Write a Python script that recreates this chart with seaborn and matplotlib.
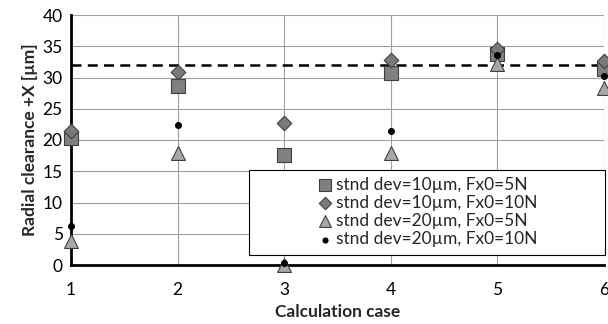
import pandas as pd
import matplotlib.pyplot as plt
import seaborn as sns
from matplotlib.patches import Rectangle

# values
cases = [1, 2, 3, 4, 5, 6]
sd10_f5 = [20.3, 28.7, 17.6, 30.8, 33.7, 31.3]
sd10_f10 = [21.4, 30.9, 22.7, 32.8, 34.6, 32.7]
sd20_f5 = [3.9, 17.9, 0.0, 18.0, 32.1, 28.4]
sd20_f10 = [6.2, 22.4, 0.3, 21.4, 33.6, 30.2]
limit = 32.0

labels = ["stnd dev=10µm, Fx0=5N", "stnd dev=10µm, Fx0=10N",
          "stnd dev=20µm, Fx0=5N", "stnd dev=20µm, Fx0=10N"]

sns.set_style("whitegrid")
plt.rcParams['font.family'] = ['Lato', 'DejaVu Sans']

fig = plt.figure(figsize=(6.08, 3.24), dpi=100)
ax = fig.add_axes([71 / 608, (324 - 265) / 324, (604 - 71) / 608, 250 / 324])

styles = [("s", "#808080", 90), ("D", "#7a7a7a", 55), ("^", "#a8a8a8", 100), ("o", "black", 18)]
for y, lab, (mk, col, sz) in zip([sd10_f5, sd10_f10, sd20_f5, sd20_f10], labels, styles):
    df = pd.DataFrame({"case": cases, "value": y})
    sns.scatterplot(data=df, x="case", y="value", marker=mk, color=col, s=sz,
                    edgecolor="#404040" if mk != "o" else "black", linewidth=0.8,
                    label=lab, ax=ax, clip_on=False, zorder=5)

ax.axhline(limit, color="black", lw=1.8, ls=(0, (4, 2.5)), zorder=4)

ax.set_xlim(1, 6)
ax.set_ylim(0, 40)
ax.set_xticks(cases)
ax.set_yticks(range(0, 41, 5))
ax.grid(True, color="#a0a0a0", lw=0.8)
for s in ["top", "right"]:
    ax.spines[s].set_visible(False)
for s in ["left", "bottom"]:
    ax.spines[s].set_color("black")
    ax.spines[s].set_linewidth(2)
ax.tick_params(axis="x", direction="inout", length=6, width=1, labelsize=12.5, pad=9)
ax.tick_params(axis="y", direction="out", length=4, width=1, labelsize=12.5, pad=2)
ax.tick_params(colors="black")

ax.set_xlabel("Calculation case", fontsize=12.5, fontweight="bold")
ax.set_ylabel("Radial clearance +X [µm]", fontsize=12.5, fontweight="bold", labelpad=3)
ax.xaxis.set_label_coords(0.5, -0.155)

# legend box drawn separately, legend content centred inside it
box = Rectangle((249 / 608, (324 - 255) / 324), (605 - 249) / 608, 85 / 324,
                transform=fig.transFigure, facecolor="white", edgecolor="black",
                lw=0.8, zorder=9)
fig.add_artist(box)
leg = ax.legend(loc="center", bbox_to_anchor=(427 / 608, (324 - 212) / 324),
                bbox_transform=fig.transFigure, frameon=False, fontsize=12.5,
                handletextpad=0.1, borderpad=0, labelspacing=0.12,
                handlelength=1.0, borderaxespad=0, markerscale=0.85)
leg.set_zorder(10)
fig.add_artist(leg)

fig.savefig("out.png", dpi=100)
